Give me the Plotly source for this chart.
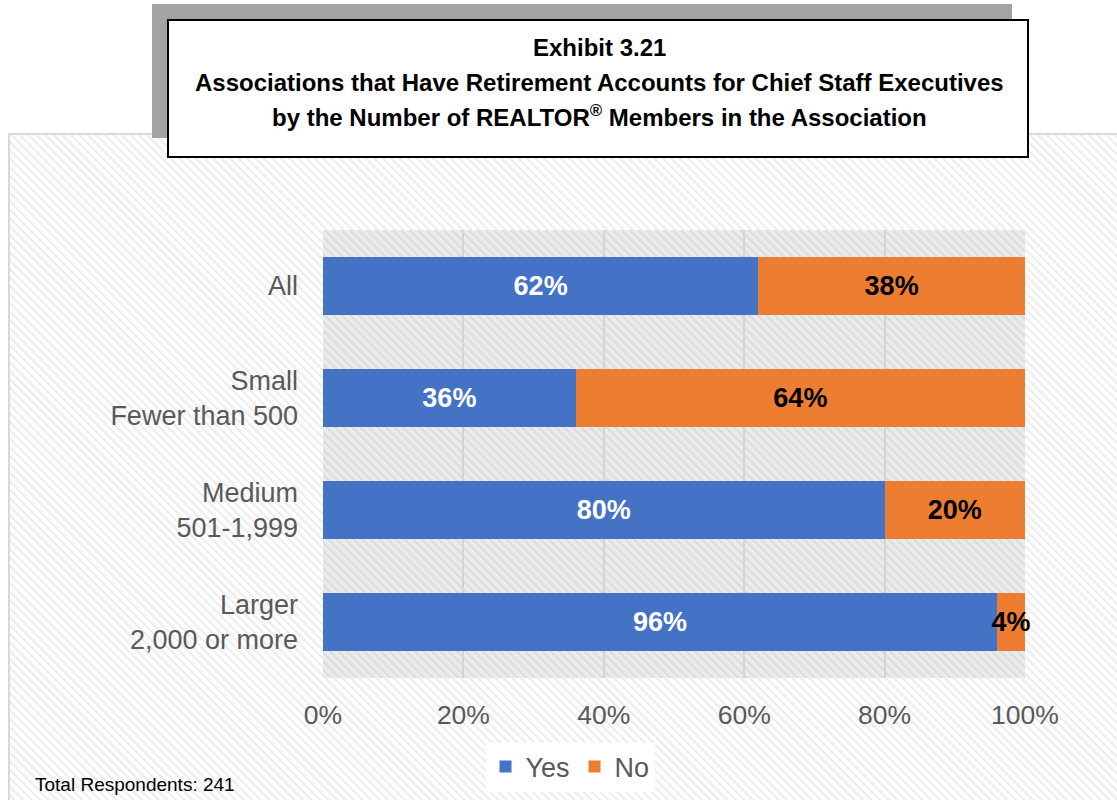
import base64
import plotly.graph_objects as go

# Survey results: share of associations with retirement accounts for the chief staff executive
categories = ["All", "Small<br>Fewer than 500", "Medium<br>501-1,999", "Larger<br>2,000 or more"]
yes_pct = [62, 36, 80, 96]
no_pct = [38, 64, 20, 4]
tick_vals = [0, 20, 40, 60, 80, 100]
tick_text = ["0%", "20%", "40%", "60%", "80%", "100%"]
title_lines = [
    "Exhibit 3.21",
    "Associations that Have Retirement Accounts for Chief Staff Executives",
    "by the Number of REALTOR<sup>®</sup> Members in the Association",
]
footnote = "Total Respondents: 241"

W, H = 1117, 800
ML, MR, MT, MB = 323, 92, 230, 122
PW, PH = W - ML - MR, H - MT - MB

BLUE = "#4472C4"
ORANGE = "#ED7D31"
GREY_TXT = "#595959"
SANS = "Liberation Sans, Arial, sans-serif"


def px_x(px):
    return (px - ML) / PW


def px_y(py):
    return 1 - (py - MT) / PH


def hatch_svg(w, h, base, stripe, period=6, sw=2.2):
    """Diagonal hatch fill as an inline SVG data URI."""
    svg = (
        f'<svg xmlns="http://www.w3.org/2000/svg" width="{w}" height="{h}" '
        f'viewBox="0 0 {w} {h}" preserveAspectRatio="none">'
        f'<defs><pattern id="p" width="{period}" height="{period}" '
        f'patternUnits="userSpaceOnUse" patternTransform="rotate(-45)">'
        f'<rect width="{period}" height="{period}" fill="{base}"/>'
        f'<rect width="{sw}" height="{period}" fill="{stripe}"/></pattern></defs>'
        f'<rect width="{w}" height="{h}" fill="url(#p)"/></svg>'
    )
    return "data:image/svg+xml;base64," + base64.b64encode(svg.encode()).decode()


fig = go.Figure()
fig.add_trace(go.Bar(
    name="Yes", y=categories, x=yes_pct, orientation="h",
    marker=dict(color=BLUE, line=dict(width=0)),
    text=[f"{v}%" for v in yes_pct], texttemplate="%{text}",
    textposition="inside", insidetextanchor="middle", constraintext="none", textangle=0,
    cliponaxis=False,
    textfont=dict(family=SANS, size=27, color="white", weight="bold"),
    hoverinfo="skip",
))
fig.add_trace(go.Bar(
    name="No", y=categories, x=no_pct, orientation="h",
    marker=dict(color=ORANGE, line=dict(width=0)),
    text=[f"{v}%" for v in no_pct], texttemplate="%{text}",
    textposition="inside", insidetextanchor="middle", constraintext="none", textangle=0,
    cliponaxis=False,
    textfont=dict(family=SANS, size=27, color="black", weight="bold"),
    hoverinfo="skip",
))

# Outer chart box and plot-area hatch backgrounds
box_l, box_t = 9, 134
images = [
    dict(source=hatch_svg(W - box_l, H - box_t, "#ffffff", "#ededed"),
         xref="paper", yref="paper", x=px_x(box_l), y=px_y(box_t),
         sizex=(W - box_l) / PW, sizey=(H - box_t) / PH,
         xanchor="left", yanchor="top", sizing="stretch", layer="below"),
    dict(source=hatch_svg(PW, PH, "#ebebeb", "#dcdcdc"),
         xref="paper", yref="paper", x=0, y=1, sizex=1, sizey=1,
         xanchor="left", yanchor="top", sizing="stretch", layer="below"),
]

shapes = [
    dict(type="rect", xref="paper", yref="paper",
         x0=px_x(box_l), x1=px_x(W + 5), y0=px_y(box_t), y1=px_y(H + 5),
         line=dict(color="#d9d9d9", width=2), fillcolor="rgba(0,0,0,0)", layer="below"),
    # Title panel: grey drop block and bordered white box
    dict(type="rect", xref="paper", yref="paper",
         x0=px_x(152), x1=px_x(1012), y0=px_y(4), y1=px_y(138),
         line=dict(width=0), fillcolor="#a3a3a3", layer="below"),
    dict(type="rect", xref="paper", yref="paper",
         x0=px_x(168), x1=px_x(1028), y0=px_y(20), y1=px_y(157),
         line=dict(color="black", width=2), fillcolor="white", layer="below"),
]

annotations = []
for line, ypix in zip(title_lines, [47, 82, 116]):
    annotations.append(dict(
        text=line, xref="paper", yref="paper", x=px_x(599), y=px_y(ypix),
        xanchor="center", yanchor="middle", showarrow=False,
        font=dict(family=SANS, size=24, color="black", weight="bold")))
annotations.append(dict(
    text=footnote, xref="paper", yref="paper",
    x=px_x(33), y=px_y(784), xanchor="left", yanchor="middle", showarrow=False,
    font=dict(family=SANS, size=19, color="black")))

fig.update_layout(
    width=W, height=H,
    margin=dict(l=ML, r=MR, t=MT, b=MB, pad=0, autoexpand=False),
    barmode="stack", bargap=0.49,
    paper_bgcolor="white", plot_bgcolor="rgba(0,0,0,0)",
    images=images, shapes=shapes, annotations=annotations,
    showlegend=True,
    legend=dict(orientation="h", x=px_x(570), y=px_y(767), xanchor="center", yanchor="middle",
                bgcolor="white", font=dict(family=SANS, size=27, color=GREY_TXT),
                itemwidth=30, traceorder="normal"),
    xaxis=dict(range=[0, 100], tickvals=tick_vals, ticktext=tick_text,
               showgrid=True, gridcolor="#d4d4d4", gridwidth=2, zeroline=False,
               showline=False, ticks="", ticklabelstandoff=18,
               tickfont=dict(family=SANS, size=26.5, color=GREY_TXT), fixedrange=True),
    yaxis=dict(autorange="reversed", showgrid=False, zeroline=False, showline=False,
               ticks="", ticklabelstandoff=24,
               tickfont=dict(family=SANS, size=27, color=GREY_TXT), fixedrange=True),
)

fig.write_html("out.html")
